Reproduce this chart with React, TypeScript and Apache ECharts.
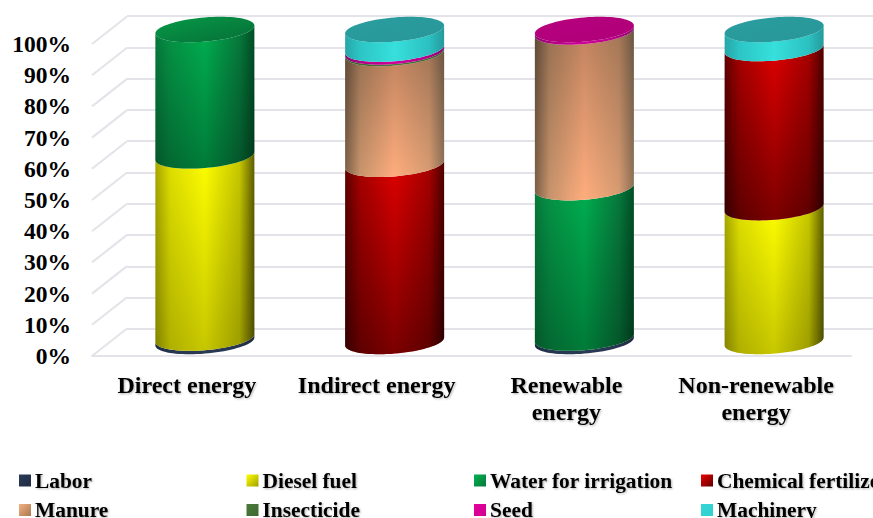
import React, { useEffect, useRef } from "react";
import * as echarts from "echarts";

const categories = ["Direct energy", "Indirect energy", "Renewable\nenergy", "Non-renewable\nenergy"];
const seriesNames = ["Labor", "Diesel fuel", "Water for irrigation", "Chemical fertilizer", "Manure", "Insecticide", "Seed", "Machinery"];
const labor = [1.1, 0, 1.1, 0];
const dieselFuel = [58.4, 0, 0, 42.9];
const waterForIrrigation = [40.5, 0, 48.2, 0];
const chemicalFertilizer = [0, 56.8, 0, 51];
const manure = [0, 35.5, 49.9, 0];
const insecticide = [0, 0.5, 0, 0];
const seed = [0, 0.9, 0.8, 0];
const machinery = [0, 6.3, 0, 6.1];
const seriesValues = [labor, dieselFuel, waterForIrrigation, chemicalFertilizer, manure, insecticide, seed, machinery];
const ticks = [0, 10, 20, 30, 40, 50, 60, 70, 80, 90, 100];

// wall stops left edge -> right edge
const wallColors = [
  ["#1c2a40", "#263550", "#2b3a55", "#263550", "#1c2a40"],
  ["#a8a800", "#e0e000", "#ffff00", "#c8c800", "#5f5f00"],
  ["#067a3c", "#059446", "#00b050", "#067a3c", "#004f26"],
  ["#600000", "#a80000", "#e00000", "#a80000", "#4e0000"],
  ["#7d6048", "#c8946c", "#ffad7d", "#d89c72", "#8f7258"],
  ["#2f5a28", "#3f6a30", "#4a7a3a", "#3f6a30", "#2f5a28"],
  ["#8a0a70", "#b00084", "#d0009a", "#b00084", "#8a0a70"],
  ["#27a5a8", "#2cc5c5", "#36e0dc", "#2cc0c0", "#259a9c"],
];
const wallStops = [0, 0.15, 0.5, 0.85, 1];
// black veil on a segment: alpha at its top and at its bottom
const veils = [
  [0, 0],
  [0, 0.22],
  [0, 0.3],
  [0, 0.45],
  [0.25, 0],
  [0, 0],
  [0, 0],
  [0, 0],
];
const capColors = [
  ["#2b3a55", "#2b3a55"],
  ["#d0d000", "#b0b000"],
  ["#069a48", "#066e36"],
  ["#a80000", "#800000"],
  ["#c8946c", "#b08058"],
  ["#3f6a30", "#3f6a30"],
  ["#b8007e", "#ae0078"],
  ["#2a9ea0", "#289698"],
];
const legendColors = [
  ["#2b3a55", "#1f2d45"],
  ["#ffff00", "#a0a000"],
  ["#00b050", "#067a3c"],
  ["#f00000", "#5e0000"],
  ["#f4b183", "#a87850"],
  ["#4a7a3a", "#3f6a30"],
  ["#e6009a", "#d00090"],
  ["#33d6d6", "#33d0d0"],
];
const legendLefts = [19, 246.5, 474, 701];
const legendTops = [470, 499.5];

const GRID = "#e3e3e9";
const RX = 49.5;
const RY = 12.1;
const SHEAR = 4;
const DX = 18;
const DY = -14.5;
const STEPS = 40;

function frontCurve(cx: number, cy: number, reverse: boolean) {
  const pts: number[][] = [];
  for (let i = 0; i <= STEPS; i++) {
    const t = (Math.PI * (reverse ? STEPS - i : i)) / STEPS;
    pts.push([cx + RX * Math.cos(t), cy + RY * Math.sin(t) - SHEAR * Math.cos(t)]);
  }
  return pts;
}

function fullEllipse(cx: number, cy: number) {
  const pts: number[][] = [];
  for (let i = 0; i < STEPS * 2; i++) {
    const t = (Math.PI * i) / STEPS;
    pts.push([cx + RX * Math.cos(t), cy + RY * Math.sin(t) - SHEAR * Math.cos(t)]);
  }
  return pts;
}

function makeRenderSegment(s: number) {
  return (_params: any, api: any) => {
    const cat = api.value(0);
    const lo = api.value(1);
    const hi = api.value(2);
    if (hi - lo <= 0) return null;
    const a = api.coord([cat, lo]);
    const b = api.coord([cat, hi]);
    const cx = a[0] + DX;
    const yLo = a[1] + DY;
    const yHi = b[1] + DY;
    const points = [...frontCurve(cx, yLo, false), ...frontCurve(cx, yHi, true)];
    const wall = new echarts.graphic.LinearGradient(
      0,
      0,
      1,
      0,
      wallStops.map((offset, i) => ({ offset, color: wallColors[s][i] }))
    );
    const children: any[] = [{ type: "polygon", shape: { points }, style: { fill: wall } }];
    const [vTop, vBottom] = veils[s];
    if (vTop > 0 || vBottom > 0) {
      children.push({
        type: "polygon",
        shape: { points },
        style: {
          fill: new echarts.graphic.LinearGradient(0, 0, 0, 1, [
            { offset: 0, color: `rgba(0,0,0,${vTop})` },
            { offset: 1, color: `rgba(0,0,0,${vBottom})` },
          ]),
        },
      });
    }
    if (hi >= 99.95) {
      children.push({
        type: "polygon",
        shape: { points: fullEllipse(cx, yHi) },
        style: {
          fill: new echarts.graphic.LinearGradient(0, 0, 1, 1, [
            { offset: 0, color: capColors[s][0] },
            { offset: 1, color: capColors[s][1] },
          ]),
        },
      });
    }
    return { type: "group", children };
  };
}

export default function App() {
  const ref = useRef<HTMLDivElement>(null);

  useEffect(() => {
    const chart = echarts.init(ref.current!, undefined, { renderer: "svg" });
    const textShadow = { textShadowColor: "rgba(0,0,0,0.3)", textShadowBlur: 2, textShadowOffsetX: 1, textShadowOffsetY: 1 };
    const font = { fontFamily: "'Liberation Serif'", fontWeight: "bold" as const, color: "#000" };

    const barSeries = seriesNames.map((name, s) => ({
      name,
      type: "custom",
      coordinateSystem: "cartesian2d",
      xAxisIndex: 0,
      yAxisIndex: 0,
      z: 5 + s,
      silent: true,
      itemStyle: { color: legendColors[s][0] },
      encode: { x: 0, y: [1, 2] },
      renderItem: makeRenderSegment(s),
      data: categories.map((_, c) => {
        let lo = 0;
        for (let k = 0; k < s; k++) lo += seriesValues[k][c];
        return [c, lo, lo + seriesValues[s][c]];
      }),
    }));

    const wallSeries = {
      type: "custom",
      coordinateSystem: "cartesian2d",
      xAxisIndex: 0,
      yAxisIndex: 0,
      z: 1,
      silent: true,
      encode: { y: 0 },
      renderItem: (params: any, api: any) => {
        const pt = api.coord([0, api.value(0)]);
        const x = params.coordSys.x;
        return {
          type: "line",
          shape: { x1: x, y1: pt[1], x2: x + 35, y2: pt[1] - 27.5 },
          style: { stroke: GRID, lineWidth: 2 },
        };
      },
      data: ticks.map((t) => [t]),
    };

    chart.setOption({
      animation: false,
      backgroundColor: "#fff",
      grid: [
        { left: 92, right: 22, top: 44, bottom: 162 },
        { left: 127, right: 0, top: 16, bottom: 189 },
      ],
      xAxis: [
        {
          type: "category",
          gridIndex: 0,
          data: categories,
          axisTick: { show: false },
          axisLine: { show: true, lineStyle: { color: GRID, width: 2 } },
          axisLabel: {
            ...font,
            ...textShadow,
            fontSize: 24,
            lineHeight: 27,
            margin: 15,
            interval: 0,
          },
        },
        { type: "category", gridIndex: 1, show: false, data: categories },
      ],
      yAxis: [
        {
          type: "value",
          gridIndex: 0,
          min: 0,
          max: 100,
          interval: 10,
          axisLine: { show: false },
          axisTick: { show: false },
          splitLine: { show: false },
          axisLabel: { ...font, fontSize: 23.5, margin: 21, formatter: "{value}%" },
        },
        {
          type: "value",
          gridIndex: 1,
          min: 0,
          max: 100,
          interval: 10,
          axisLine: { show: false },
          axisTick: { show: false },
          axisLabel: { show: false },
          splitLine: { show: true, lineStyle: { color: GRID, width: 2 } },
        },
      ],
      legend: seriesNames.map((name, s) => ({
        left: legendLefts[s % 4],
        top: legendTops[Math.floor(s / 4)],
        padding: 0,
        selectedMode: false,
        itemWidth: 12,
        itemHeight: 12,
        textStyle: { ...font, ...textShadow, fontSize: 21.4, padding: [0, 0, 0, -1] },
        data: [
          {
            name,
            icon: "rect",
            itemStyle: {
              color: new echarts.graphic.LinearGradient(0, 0, 1, 1, [
                { offset: 0, color: legendColors[s][0] },
                { offset: 1, color: legendColors[s][1] },
              ]),
            },
          },
        ],
      })),
      series: [wallSeries, ...barSeries],
    });
    return () => chart.dispose();
  }, []);

  return (
    <div
      ref={ref}
      style={{ position: "absolute", left: 0, top: 0, width: 873, height: 518, overflow: "hidden" }}
    />
  );
}
